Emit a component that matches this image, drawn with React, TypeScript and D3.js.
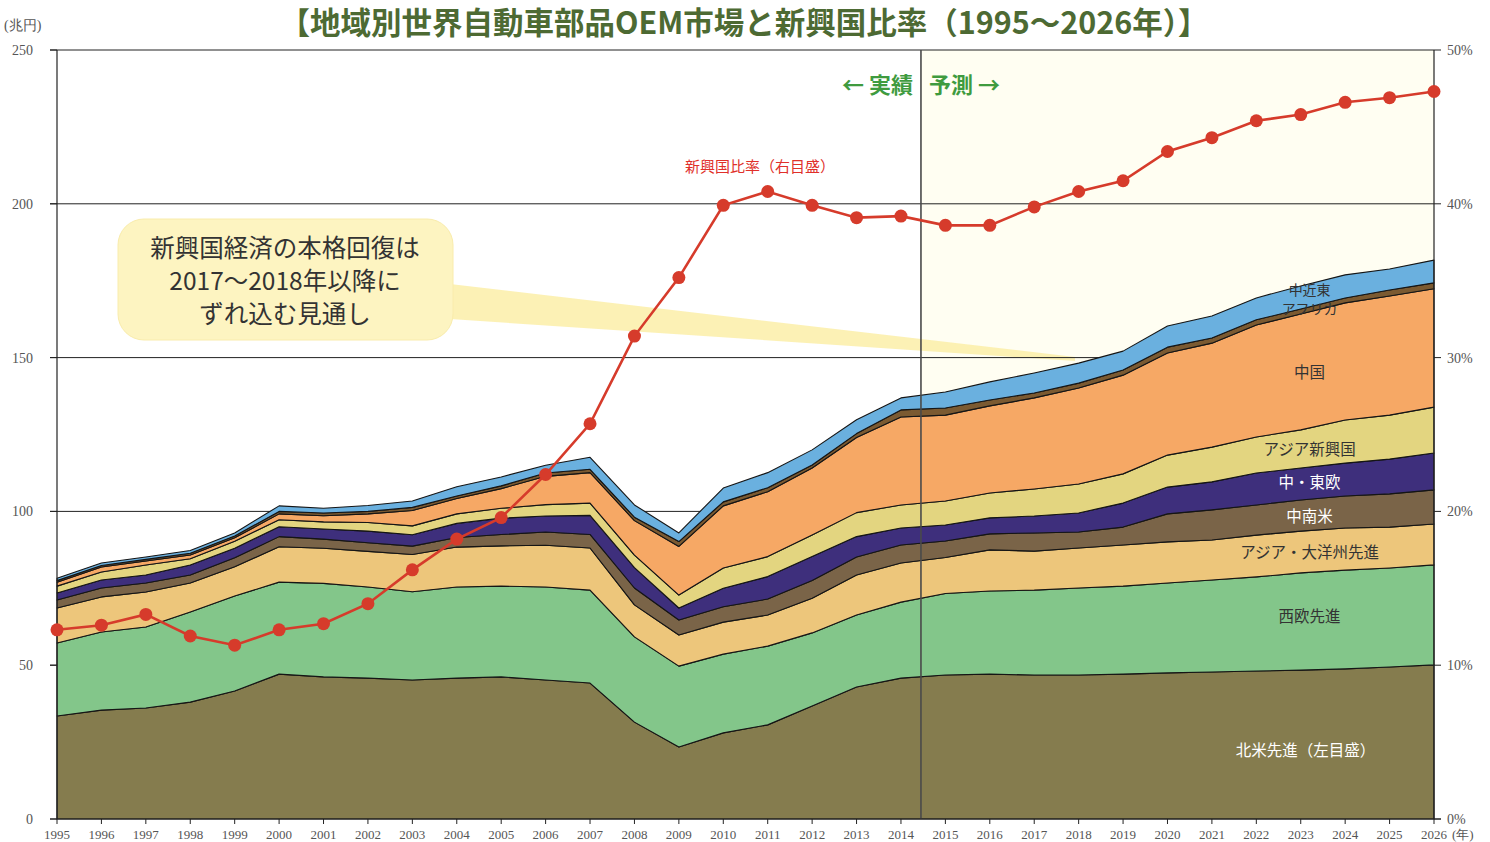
import React, { useEffect, useRef } from 'react';
import * as d3 from 'd3';

// 兆円, stacked from the bottom
const years = [1995, 1996, 1997, 1998, 1999, 2000, 2001, 2002, 2003, 2004, 2005, 2006, 2007, 2008, 2009, 2010,
  2011, 2012, 2013, 2014, 2015, 2016, 2017, 2018, 2019, 2020, 2021, 2022, 2023, 2024, 2025, 2026];

const northAmerica = [33.5, 35.4, 36.1, 38.0, 41.6, 47.1, 46.2, 45.8, 45.2, 45.8, 46.2, 45.2, 44.2, 31.5, 23.4, 28.0,
  30.6, 36.7, 42.9, 45.8, 46.8, 47.1, 46.8, 46.8, 47.1, 47.5, 47.8, 48.1, 48.4, 48.8, 49.4, 50.1];
const westEurope = [23.7, 25.4, 26.3, 29.3, 30.9, 29.9, 30.4, 29.6, 28.7, 29.6, 29.5, 30.2, 30.2, 27.7, 26.3, 25.6,
  25.6, 23.8, 23.4, 24.7, 26.5, 27.0, 27.6, 28.3, 28.6, 29.2, 29.9, 30.6, 31.6, 32.1, 32.2, 32.5];
const asiaOceania = [11.4, 11.4, 11.4, 9.4, 9.5, 11.5, 11.4, 11.6, 12.1, 13.0, 13.1, 13.6, 13.7, 10.4, 10.1, 10.4,
  10.1, 11.3, 13.0, 12.7, 11.7, 13.4, 12.7, 13.0, 13.4, 13.4, 13.0, 13.6, 13.6, 13.7, 13.3, 13.3];
const latinAmerica = [2.6, 2.9, 2.9, 2.6, 2.9, 3.3, 3.0, 2.8, 2.7, 3.1, 3.7, 4.3, 4.4, 5.5, 4.9, 5.0,
  5.2, 5.7, 5.9, 5.9, 5.4, 5.2, 5.9, 5.2, 5.8, 9.1, 9.8, 9.8, 10.1, 10.4, 10.8, 11.1];
const centralEastEurope = [2.3, 2.6, 2.6, 3.3, 3.1, 3.2, 3.3, 3.8, 3.7, 4.6, 5.3, 5.2, 6.2, 6.6, 3.9, 6.0,
  7.3, 7.8, 6.6, 5.5, 5.2, 5.2, 5.5, 6.2, 7.8, 8.7, 9.1, 10.4, 10.4, 10.7, 11.3, 12.0];
const asiaEmerging = [2.2, 2.6, 3.3, 2.0, 2.3, 2.3, 2.3, 2.8, 2.9, 3.1, 3.2, 3.7, 4.0, 4.1, 4.2, 6.6,
  6.5, 7.0, 7.8, 7.5, 7.8, 8.1, 8.8, 9.4, 9.5, 10.4, 11.3, 11.7, 12.4, 14.0, 14.3, 14.9];
const china = [1.3, 1.6, 1.3, 1.2, 1.1, 1.9, 2.0, 2.8, 5.0, 5.0, 6.4, 9.2, 9.9, 11.2, 15.8, 20.2,
  21.1, 21.8, 24.4, 28.6, 27.9, 28.3, 29.6, 31.2, 32.1, 33.2, 33.8, 36.4, 37.7, 38.1, 38.7, 38.5];
const others = [0.5, 0.5, 0.5, 0.6, 0.6, 0.8, 0.9, 0.8, 1.0, 0.8, 0.9, 1.1, 1.1, 1.1, 1.6, 1.3,
  1.3, 1.0, 1.3, 2.3, 2.3, 1.9, 1.6, 1.6, 1.7, 1.9, 1.7, 1.7, 1.6, 1.6, 2.0, 1.9];
const middleEastAfrica = [0.8, 0.8, 0.8, 0.9, 1.0, 1.8, 1.5, 1.9, 2.1, 3.0, 2.9, 2.5, 3.9, 4.0, 2.8, 4.5,
  4.9, 4.9, 4.5, 3.9, 5.2, 5.9, 6.5, 6.5, 6.1, 6.9, 7.1, 7.1, 7.5, 7.5, 6.8, 7.4];

// 新興国比率 (%), right axis
const emergingShare = [12.3, 12.6, 13.3, 11.9, 11.3, 12.3, 12.7, 14.0, 16.2, 18.2, 19.6, 22.4, 25.7, 31.4, 35.2, 39.9,
  40.8, 39.9, 39.1, 39.2, 38.6, 38.6, 39.8, 40.8, 41.5, 43.4, 44.3, 45.4, 45.8, 46.6, 46.9, 47.3];

const leftTicks = [0, 50, 100, 150, 200, 250];
const rightTicks = [0, 10, 20, 30, 40, 50];
const forecastStart = 2014.45;

const layers = [
  { key: 'na', name: '北米先進（左目盛）', values: northAmerica, color: '#857c4e', text: '#fff', dy: 5 },
  { key: 'we', name: '西欧先進', values: westEurope, color: '#83c68a', text: '#333', dy: -6 },
  { key: 'ao', name: 'アジア・大洋州先進', values: asiaOceania, color: '#edc67b', text: '#333', dy: 0 },
  { key: 'la', name: '中南米', values: latinAmerica, color: '#7a6448', text: '#fff', dy: 0 },
  { key: 'ce', name: '中・東欧', values: centralEastEurope, color: '#3e2f7c', text: '#fff', dy: -2 },
  { key: 'ae', name: 'アジア新興国', values: asiaEmerging, color: '#e3d580', text: '#333', dy: 0 },
  { key: 'cn', name: '中国', values: china, color: '#f6a865', text: '#333', dy: 0 },
  { key: 'ot', name: '', values: others, color: '#7b5a31', text: '#333', dy: 0 },
  { key: 'me', name: '中近東アフリカ', values: middleEastAfrica, color: '#6ab0df', text: '#333', dy: 0 },
];

const jp = '"Noto Sans CJK JP", "Noto Sans", sans-serif';
const serif = '"Liberation Serif", "DejaVu Serif", serif';

export default function App() {
  const svgRef = useRef<SVGSVGElement>(null);

  useEffect(() => {
    if (!svgRef.current) return;
    const svg = d3.select(svgRef.current);
    svg.selectAll('*').remove();

    const width = 1490;
    const height = 842;
    const margin = { top: 50, right: 56, bottom: 23, left: 57 };

    const x = d3.scaleLinear().domain([1995, 2026]).range([margin.left, width - margin.right]);
    const yL = d3.scaleLinear().domain([0, 250]).range([height - margin.bottom, margin.top]);
    const yR = d3.scaleLinear().domain([0, 50]).range([height - margin.bottom, margin.top]);
    const x0 = x.range()[0];
    const x1 = x.range()[1];
    const yBottom = yL(0);
    const yTop = yL(250);

    svg.append('rect').attr('width', width).attr('height', height).attr('fill', '#fff');

    // forecast background
    svg.append('rect')
      .attr('x', x(forecastStart)).attr('y', yTop)
      .attr('width', x1 - x(forecastStart)).attr('height', yBottom - yTop)
      .attr('fill', '#fffef2');

    // callout
    const callout = svg.append('g');
    callout.append('path')
      .attr('d', 'M450,284 L1075,357 L1075,361 L450,319 Z')
      .attr('fill', '#fbefa8').attr('opacity', 0.85);
    callout.append('rect')
      .attr('x', 118).attr('y', 219).attr('width', 335).attr('height', 121).attr('rx', 26)
      .attr('fill', '#fdf4c1').attr('stroke', '#f9ecac').attr('stroke-width', 1);
    ['新興国経済の本格回復は', '2017〜2018年以降に', 'ずれ込む見通し'].forEach((t, i) => {
      callout.append('text')
        .attr('x', 285).attr('y', 257 + i * 33)
        .attr('text-anchor', 'middle').attr('font-family', jp).attr('font-size', 24.5)
        .attr('fill', '#333').text(t);
    });

    // grid lines
    svg.append('g')
      .selectAll('line')
      .data(leftTicks.filter(d => d > 0))
      .enter()
      .append('line')
      .attr('x1', x0 - 7).attr('x2', x1)
      .attr('y1', d => yL(d)).attr('y2', d => yL(d))
      .attr('stroke', '#222').attr('stroke-width', 1);

    // stacked areas
    const table = years.map((yr, i) => {
      const row: any = { year: yr };
      layers.forEach(l => { row[l.key] = l.values[i]; });
      return row;
    });
    const stacked = d3.stack<any>().keys(layers.map(l => l.key))(table);

    const area = d3.area<any>()
      .x(d => x(d.data.year))
      .y0(d => yL(d[0]))
      .y1(d => yL(d[1]));

    svg.append('g')
      .selectAll('path')
      .data(stacked)
      .enter()
      .append('path')
      .attr('d', area)
      .attr('fill', (_d, i) => layers[i].color)
      .attr('stroke', '#151515')
      .attr('stroke-width', 1.1)
      .attr('stroke-linejoin', 'round');

    // forecast divider
    svg.append('line')
      .attr('x1', x(forecastStart)).attr('x2', x(forecastStart))
      .attr('y1', yTop).attr('y2', yBottom)
      .attr('stroke', '#4a4a4a').attr('stroke-width', 1.6);

    // axes
    const axisColor = '#222';
    svg.append('line').attr('x1', x0).attr('x2', x0).attr('y1', yTop).attr('y2', yBottom)
      .attr('stroke', axisColor).attr('stroke-width', 1.2);
    svg.append('line').attr('x1', x1).attr('x2', x1).attr('y1', yTop).attr('y2', yBottom)
      .attr('stroke', axisColor).attr('stroke-width', 1.2);
    svg.append('line').attr('x1', x0 - 7).attr('x2', x1 + 7).attr('y1', yBottom).attr('y2', yBottom)
      .attr('stroke', axisColor).attr('stroke-width', 1.2);

    // left axis labels
    const left = svg.append('g');
    left.selectAll('line').data(leftTicks).enter().append('line')
      .attr('x1', x0 - 7).attr('x2', x0).attr('y1', d => yL(d)).attr('y2', d => yL(d))
      .attr('stroke', axisColor);
    left.selectAll('text').data(leftTicks).enter().append('text')
      .attr('x', 33).attr('y', d => yL(d) + 5)
      .attr('text-anchor', 'end').attr('font-family', serif).attr('font-size', 14)
      .attr('fill', '#555').text(d => d);
    svg.append('text').attr('x', 4).attr('y', 30)
      .attr('font-family', serif).attr('font-size', 14).attr('fill', '#555').text('(兆円)');

    // right axis labels
    const right = svg.append('g');
    right.selectAll('line').data(rightTicks).enter().append('line')
      .attr('x1', x1).attr('x2', x1 + 7).attr('y1', d => yR(d)).attr('y2', d => yR(d))
      .attr('stroke', axisColor);
    right.selectAll('text').data(rightTicks).enter().append('text')
      .attr('x', x1 + 13).attr('y', d => yR(d) + 5)
      .attr('font-family', serif).attr('font-size', 14)
      .attr('fill', '#555').text(d => `${d}%`);

    // x axis
    const bottom = svg.append('g');
    bottom.selectAll('line').data(years).enter().append('line')
      .attr('x1', d => x(d)).attr('x2', d => x(d)).attr('y1', yBottom).attr('y2', yBottom + 5)
      .attr('stroke', axisColor);
    bottom.selectAll('text').data(years).enter().append('text')
      .attr('x', d => x(d)).attr('y', yBottom + 20)
      .attr('text-anchor', 'middle').attr('font-family', serif).attr('font-size', 13)
      .attr('fill', '#555').text(d => d);
    svg.append('text').attr('x', x1 + 18).attr('y', yBottom + 20)
      .attr('font-family', serif).attr('font-size', 13).attr('fill', '#555').text('(年)');

    // emerging share line
    const line = d3.line<number>()
      .x((_d, i) => x(years[i]))
      .y(d => yR(d));
    svg.append('path')
      .datum(emergingShare)
      .attr('d', line)
      .attr('fill', 'none')
      .attr('stroke', '#d63b2b')
      .attr('stroke-width', 2.6);
    svg.append('g')
      .selectAll('circle')
      .data(emergingShare)
      .enter()
      .append('circle')
      .attr('cx', (_d, i) => x(years[i]))
      .attr('cy', d => yR(d))
      .attr('r', 6.5)
      .attr('fill', '#d63b2b');

    // layer labels, placed in the middle of each band at 2023
    const labelIdx = years.indexOf(2023);
    const labelX = x(2023.2);
    stacked.forEach((s, i) => {
      const l = layers[i];
      if (!l.name) return;
      const mid = yL((s[labelIdx][0] + s[labelIdx][1]) / 2);
      if (l.key === 'me') {
        ['中近東', 'アフリカ'].forEach((t, j) => {
          svg.append('text').attr('x', labelX).attr('y', mid - 2 + j * 19)
            .attr('text-anchor', 'middle').attr('font-family', jp).attr('font-size', 14)
            .attr('fill', l.text).text(t);
        });
        return;
      }
      svg.append('text')
        .attr('x', labelX - (l.key === 'na' ? 4 : 0)).attr('y', mid + 6 + l.dy)
        .attr('text-anchor', 'middle').attr('font-family', jp).attr('font-size', 15.5)
        .attr('fill', l.text).text(l.name);
    });

    svg.append('text').attr('x', 760).attr('y', 172)
      .attr('text-anchor', 'middle').attr('font-family', jp).attr('font-size', 15)
      .attr('fill', '#e0302a').text('新興国比率（右目盛）');

    svg.append('text').attr('x', x(forecastStart) - 8).attr('y', 93)
      .attr('text-anchor', 'end').attr('font-family', jp).attr('font-size', 22).attr('font-weight', 'bold')
      .attr('fill', '#3f9b3f').text('← 実績');
    svg.append('text').attr('x', x(forecastStart) + 8).attr('y', 93)
      .attr('font-family', jp).attr('font-size', 22).attr('font-weight', 'bold')
      .attr('fill', '#3f9b3f').text('予測 →');

    // title
    svg.append('text').attr('x', 744).attr('y', 34)
      .attr('text-anchor', 'middle').attr('font-family', jp).attr('font-size', 30.5).attr('font-weight', 'bold')
      .attr('fill', '#4d6a33').text('【地域別世界自動車部品OEM市場と新興国比率（1995〜2026年）】');
  }, []);

  return <svg ref={svgRef} width={1490} height={842} style={{ position: 'absolute', left: 0, top: 0, display: 'block' }} />;
}
